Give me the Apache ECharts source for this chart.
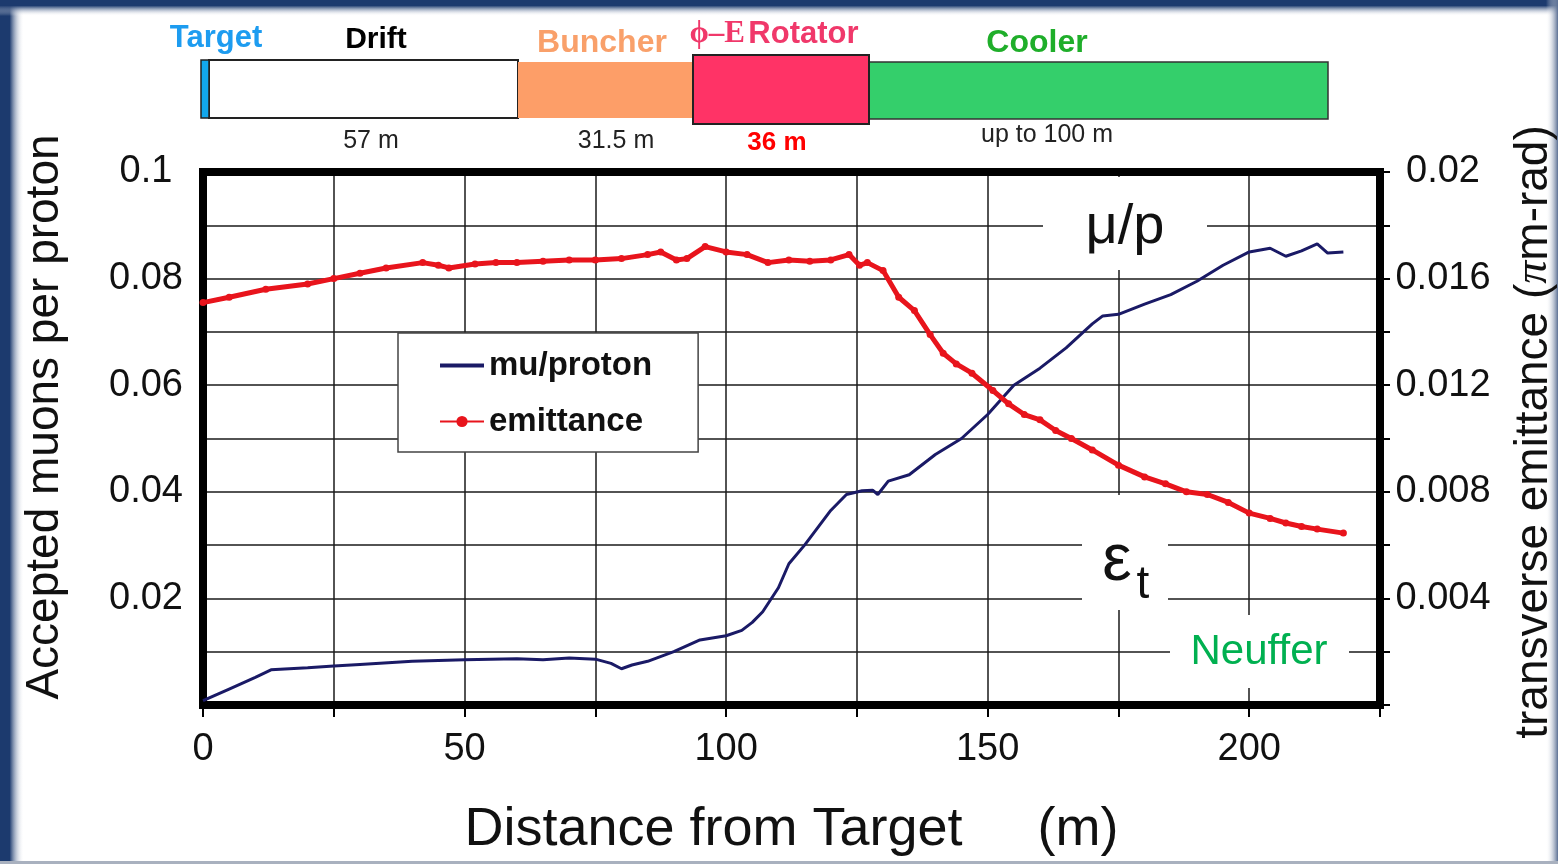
<!DOCTYPE html>
<html>
<head>
<meta charset="utf-8">
<script src="https://cdn.jsdelivr.net/npm/echarts@6/dist/echarts.min.js"></script>
<style>
html,body{margin:0;padding:0;background:#fff;}
#chart{width:1558px;height:864px;}
</style>
</head>
<body>
<div id="chart"></div>
<script>
// ---- data ----
var muX = [0, 5, 10, 13, 20, 25, 30, 40, 50, 55, 60, 65, 70, 75, 78, 80, 82, 85, 90, 95, 100, 103, 105, 107, 110, 112, 115, 120, 123, 126, 128, 129, 131, 135, 140, 145, 150, 155, 160, 165, 170, 172, 175, 180, 185, 190, 195, 200, 204, 207, 210, 213, 215, 218];
var muY = [0.0008, 0.0030, 0.0052, 0.0066, 0.0070, 0.0073, 0.0076, 0.0082, 0.0085, 0.0086, 0.0087, 0.0085, 0.0088, 0.0086, 0.0078, 0.0068, 0.0075, 0.0082, 0.0100, 0.0122, 0.0130, 0.0140, 0.0155, 0.0175, 0.0220, 0.0265, 0.0300, 0.0365, 0.0395, 0.0402, 0.0403, 0.0395, 0.0420, 0.0432, 0.0470, 0.0500, 0.0545, 0.0600, 0.0632, 0.0670, 0.0715, 0.0730, 0.0733, 0.0752, 0.0770, 0.0795, 0.0825, 0.0850, 0.0857, 0.0842, 0.0852, 0.0865, 0.0848, 0.0850];
var emX = [0, 5, 12, 20, 25, 30, 35, 42, 45, 47, 52, 56, 60, 65, 70, 75, 80, 85, 87.5, 90.5, 92.5, 96, 100, 104, 108, 112, 116, 120, 123.5, 125.5, 127, 130, 133, 136, 139, 141.5, 144, 147, 151, 154, 157, 160, 163, 166, 170, 175, 180, 184, 188, 192, 196, 200, 204, 207, 210, 213, 218];
var emY = [0.0151, 0.0153, 0.0156, 0.0158, 0.0160, 0.0162, 0.0164, 0.0166, 0.0165, 0.0164, 0.01655, 0.0166, 0.0166, 0.01665, 0.0167, 0.0167, 0.01675, 0.0169, 0.0170, 0.0167, 0.01675, 0.0172, 0.0170, 0.0169, 0.0166, 0.0167, 0.01665, 0.0167, 0.0169, 0.0165, 0.0166, 0.0163, 0.0153, 0.0148, 0.0139, 0.0132, 0.0128, 0.01245, 0.0118, 0.0113, 0.0109, 0.0107, 0.0103, 0.0100, 0.00957, 0.0090, 0.00856, 0.0083, 0.0080, 0.0079, 0.0076, 0.0072, 0.0070, 0.00683, 0.0067, 0.0066, 0.00645];
var seriesNames = ['mu/proton', 'emittance'];
var xTicks = [0, 50, 100, 150, 200];
var leftTicks = [0.02, 0.04, 0.06, 0.08, 0.1];
var rightTicks = [0.004, 0.008, 0.012, 0.016, 0.02];
var stageNames = ['Target', 'Drift', 'Buncher', 'Rotator', 'Cooler'];
var stageLengths = ['57 m', '31.5 m', '36 m', 'up to 100 m'];

function pairs(xs, ys) { return xs.map(function (x, i) { return [x, ys[i]]; }); }
function inList(list, v) { return list.some(function (t) { return Math.abs(t - v) < 1e-9; }); }
function fmt(v) { return String(Math.round(v * 1000) / 1000); }

var SANS = '"Liberation Sans", Arial, sans-serif';
var NAVY = '#1c3a6e';

var chart = echarts.init(document.getElementById('chart'), null, { renderer: 'canvas' });

var graphics = [
  // frame
  { type: 'rect', shape: { x: 0, y: 0, width: 24, height: 864 }, z: 1,
    style: { fill: new echarts.graphic.LinearGradient(0, 0, 1, 0, [{ offset: 0, color: NAVY }, { offset: 0.4, color: NAVY }, { offset: 1, color: 'rgba(255,255,255,0)' }]) } },
  { type: 'rect', shape: { x: 0, y: 0, width: 1558, height: 16 }, z: 1,
    style: { fill: new echarts.graphic.LinearGradient(0, 0, 0, 1, [{ offset: 0, color: NAVY }, { offset: 0.35, color: NAVY }, { offset: 1, color: 'rgba(255,255,255,0)' }]) } },
  { type: 'rect', shape: { x: 1546, y: 0, width: 12, height: 864 }, z: 1,
    style: { fill: new echarts.graphic.LinearGradient(0, 0, 1, 0, [{ offset: 0, color: 'rgba(255,255,255,0)' }, { offset: 1, color: '#5a6f93' }]) } },
  { type: 'rect', shape: { x: 0, y: 861, width: 1558, height: 3 }, z: 1, style: { fill: '#a9b1bf' } },

  // schematic boxes
  { type: 'rect', shape: { x: 209, y: 60, width: 309, height: 58 }, z: 5, style: { fill: '#ffffff', stroke: '#222', lineWidth: 2 } },
  { type: 'rect', shape: { x: 201, y: 60, width: 8, height: 58 }, z: 6, style: { fill: '#12a8ee', stroke: '#222', lineWidth: 1.5 } },
  { type: 'rect', shape: { x: 518, y: 62, width: 175, height: 56 }, z: 5, style: { fill: '#fd9e68', stroke: null } },
  { type: 'rect', shape: { x: 869, y: 62, width: 459, height: 57 }, z: 5, style: { fill: '#34cf6b', stroke: '#333', lineWidth: 1.5 } },
  { type: 'rect', shape: { x: 693, y: 55, width: 176, height: 69 }, z: 6, style: { fill: '#ff3366', stroke: '#222', lineWidth: 2 } },

  // schematic labels
  { type: 'text', x: 216, y: 38, z: 7, style: { text: stageNames[0], font: 'bold 31px ' + SANS, fill: '#1d9cf0', align: 'center', verticalAlign: 'middle' } },
  { type: 'text', x: 376, y: 40, z: 7, style: { text: stageNames[1], font: 'bold 30px ' + SANS, fill: '#000', align: 'center', verticalAlign: 'middle' } },
  { type: 'text', x: 602, y: 43, z: 7, style: { text: stageNames[2], font: 'bold 32px ' + SANS, fill: '#f9a06a', align: 'center', verticalAlign: 'middle' } },
  { type: 'text', x: 774, y: 34, z: 7, style: { text: '{a|ϕ–E} {b|' + stageNames[3] + '}', align: 'center', verticalAlign: 'middle',
      rich: { a: { font: 'bold 31px "Liberation Serif", serif', fill: '#f0386a' }, b: { font: 'bold 31px ' + SANS, fill: '#f0386a' } } } },
  { type: 'text', x: 1037, y: 43, z: 7, style: { text: stageNames[4], font: 'bold 32px ' + SANS, fill: '#1fae2a', align: 'center', verticalAlign: 'middle' } },
  { type: 'text', x: 371, y: 141, z: 7, style: { text: stageLengths[0], font: '25px ' + SANS, fill: '#222', align: 'center', verticalAlign: 'middle' } },
  { type: 'text', x: 616, y: 141, z: 7, style: { text: stageLengths[1], font: '25px ' + SANS, fill: '#222', align: 'center', verticalAlign: 'middle' } },
  { type: 'text', x: 777, y: 143, z: 7, style: { text: stageLengths[2], font: 'bold 26px ' + SANS, fill: '#ff0000', align: 'center', verticalAlign: 'middle' } },
  { type: 'text', x: 1047, y: 135, z: 7, style: { text: stageLengths[3], font: '25px ' + SANS, fill: '#222', align: 'center', verticalAlign: 'middle' } },

  // axis titles
  { type: 'text', x: 45, y: 417, rotation: Math.PI / 2, z: 7, style: { text: 'Accepted muons per proton', font: '46px ' + SANS, fill: '#111', align: 'center', verticalAlign: 'middle' } },
  { type: 'text', x: 1534, y: 432, rotation: Math.PI / 2, z: 7, style: { text: 'transverse emittance ({p|π}m-rad)', font: '46px ' + SANS, fill: '#111', align: 'center', verticalAlign: 'middle',
      rich: { p: { font: 'italic 46px "Liberation Serif", serif', fill: '#111' } } } },

  // in-plot annotations
  { type: 'rect', shape: { x: 1043, y: 177, width: 164, height: 93 }, z: 20, style: { fill: '#fff' } },
  { type: 'text', x: 1125, y: 228, z: 21, style: { text: 'μ/p', font: '56px ' + SANS, fill: '#111', align: 'center', verticalAlign: 'middle' } },
  { type: 'rect', shape: { x: 1082, y: 495, width: 86, height: 115 }, z: 20, style: { fill: '#fff' } },
  { type: 'text', x: 1117, y: 562, z: 21, style: { text: 'ε', font: '66px ' + SANS, fill: '#111', align: 'center', verticalAlign: 'middle' } },
  { type: 'text', x: 1143, y: 585, z: 21, style: { text: 't', font: '46px ' + SANS, fill: '#111', align: 'center', verticalAlign: 'middle' } },
  { type: 'rect', shape: { x: 1170, y: 615, width: 179, height: 73 }, z: 20, style: { fill: '#fff' } },
  { type: 'text', x: 1259, y: 652, z: 21, style: { text: 'Neuffer', font: '42px ' + SANS, fill: '#00b050', align: 'center', verticalAlign: 'middle' } }
];

var option = {
  backgroundColor: '#ffffff',
  animation: false,
  textStyle: { fontFamily: SANS },
  grid: { left: 203, right: 178, top: 172, bottom: 159, show: true, borderWidth: 8, borderColor: '#000', backgroundColor: 'transparent', z: 3 },
  legend: {
    data: [
      { name: seriesNames[0], itemStyle: { opacity: 0 }, lineStyle: { width: 4 } },
      { name: seriesNames[1] }
    ],
    left: 398, top: 333, orient: 'vertical',
    backgroundColor: '#fff', borderColor: '#444', borderWidth: 1.5,
    padding: [16, 46, 14, 40],
    itemWidth: 44, itemHeight: 14, itemGap: 23,
    textStyle: { fontSize: 33, fontWeight: 'bold', color: '#111', fontFamily: SANS },
    z: 30
  },
  xAxis: {
    type: 'value', min: 0, max: 225, interval: 25,
    name: 'Distance from Target     (m)', nameLocation: 'middle', nameGap: 98,
    nameTextStyle: { fontSize: 54, color: '#111', fontFamily: SANS },
    axisLine: { show: false },
    axisTick: { show: true, inside: false, length: 12, lineStyle: { color: '#000', width: 2 } },
    axisLabel: { margin: 26, fontSize: 38, color: '#111', fontFamily: SANS,
      formatter: function (v) { return inList(xTicks, v) ? String(v) : ''; } },
    splitLine: { show: true, lineStyle: { color: '#1a1a1a', width: 1.5 } }
  },
  yAxis: [
    {
      type: 'value', min: 0, max: 0.1, interval: 0.01, position: 'left',
      axisLine: { show: false }, axisTick: { show: false },
      axisLabel: { margin: 57, align: 'center', fontSize: 38, color: '#111', fontFamily: SANS,
        formatter: function (v) { return inList(leftTicks, v) ? fmt(v) : ''; } },
      splitLine: { show: true, lineStyle: { color: '#1a1a1a', width: 1.5 } }
    },
    {
      type: 'value', min: 0, max: 0.02, interval: 0.002, position: 'right',
      axisLine: { show: false },
      axisTick: { show: true, inside: false, length: 10, lineStyle: { color: '#000', width: 2 } },
      axisLabel: { margin: 63, align: 'center', fontSize: 38, color: '#111', fontFamily: SANS,
        formatter: function (v) { return inList(rightTicks, v) ? fmt(v) : ''; } },
      splitLine: { show: false }
    }
  ],
  series: [
    {
      name: seriesNames[0], type: 'line', yAxisIndex: 0, data: pairs(muX, muY),
      symbol: 'none', smooth: false, z: 5,
      lineStyle: { color: '#1a1a66', width: 3 }, itemStyle: { color: '#1a1a66' }
    },
    {
      name: seriesNames[1], type: 'line', yAxisIndex: 1, data: pairs(emX, emY),
      symbol: 'circle', symbolSize: 7, showSymbol: true, z: 6,
      lineStyle: { color: '#e8141c', width: 5 }, itemStyle: { color: '#e8141c' }
    }
  ],
  graphic: graphics
};
chart.setOption(option);
</script>
</body>
</html>
